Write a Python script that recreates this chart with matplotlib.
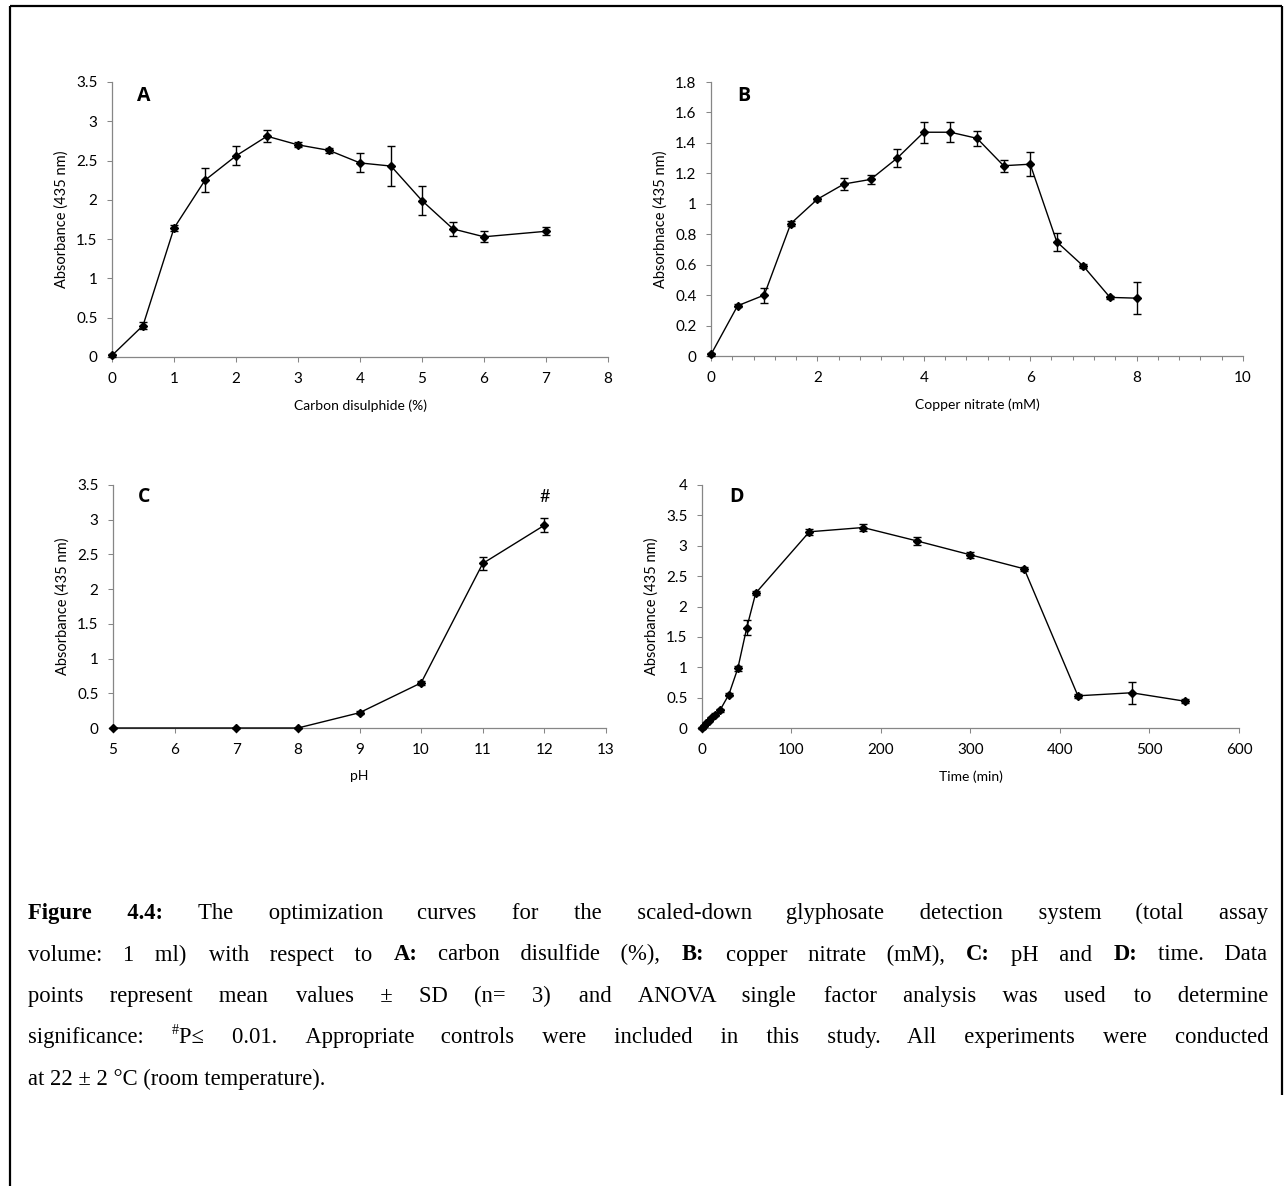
import re

import matplotlib

matplotlib.use("Agg")
import matplotlib.pyplot as plt
from matplotlib.lines import Line2D
from matplotlib.ticker import FuncFormatter, MultipleLocator

# ---- data: mean absorbance (435 nm) and SD, n = 3 ----
cs2_pct = [0, 0.5, 1, 1.5, 2, 2.5, 3, 3.5, 4, 4.5, 5, 5.5, 6, 7]
cs2_abs = [0.02, 0.40, 1.64, 2.25, 2.56, 2.81, 2.70, 2.63, 2.47, 2.43, 1.99, 1.63, 1.53, 1.60]
cs2_sd = [0.02, 0.04, 0.04, 0.15, 0.12, 0.08, 0.03, 0.03, 0.12, 0.26, 0.18, 0.09, 0.07, 0.05]

cu_mm = [0, 0.5, 1, 1.5, 2, 2.5, 3, 3.5, 4, 4.5, 5, 5.5, 6, 6.5, 7, 7.5, 8]
cu_abs = [0.01, 0.33, 0.40, 0.87, 1.03, 1.13, 1.16, 1.30, 1.47, 1.47, 1.43, 1.25, 1.26,
          0.75, 0.59, 0.385, 0.38]
cu_sd = [0.01, 0.01, 0.05, 0.015, 0.01, 0.04, 0.03, 0.06, 0.07, 0.065, 0.05, 0.04, 0.08,
         0.06, 0.015, 0.01, 0.105]

ph = [5, 7, 8, 9, 10, 11, 12]
ph_abs = [0.0, 0.0, 0.0, 0.22, 0.65, 2.37, 2.92]
ph_sd = [0.0, 0.0, 0.0, 0.02, 0.03, 0.09, 0.10]
ph_sig_x = 12
ph_sig_y = 3.33

time_min = [0, 2.5, 5, 7.5, 10, 15, 20, 30, 40, 50, 60, 120, 180, 240, 300, 360, 420, 480, 540]
time_abs = [0.0, 0.04, 0.08, 0.12, 0.16, 0.22, 0.29, 0.55, 0.98, 1.65, 2.22, 3.23, 3.30,
            3.08, 2.85, 2.62, 0.53, 0.58, 0.44]
time_sd = [0.01, 0.01, 0.01, 0.01, 0.02, 0.02, 0.03, 0.03, 0.04, 0.12, 0.03, 0.05, 0.05,
           0.07, 0.05, 0.03, 0.03, 0.18, 0.03]

CAPTION = [
    "**Figure **4.4: The optimization curves for the scaled-down glyphosate detection system (total assay",
    "volume: 1 ml) with respect to **A: carbon disulfide (%), **B: copper nitrate (mM), **C: pH and **D: time. Data",
    "points represent mean values ± SD (n= 3) and ANOVA single factor analysis was used to determine",
    "significance: {#}P≤ 0.01. Appropriate controls were included in this study. All experiments were conducted",
    "at 22 ± 2 °C (room temperature).",
]

W, H = 1285, 1186
AX_GREY = "#868686"
SERIF = ["Liberation Serif", "DejaVu Serif"]

plt.rcParams["font.family"] = ["Lato", "DejaVu Sans"]

fig = plt.figure(figsize=(W / 100, H / 100), dpi=100)
excel_fmt = FuncFormatter(lambda v, _: f"{v:g}")


def px_axes(left, right, top, bottom):
    return fig.add_axes([left / W, 1 - bottom / H, (right - left) / W, (bottom - top) / H])


def style(ax, xlim, ylim, xstep, ystep, xlabel, ylabel, letter, xminor=None):
    ax.set_xlim(*xlim)
    ax.set_ylim(*ylim)
    ax.xaxis.set_major_locator(MultipleLocator(xstep))
    ax.yaxis.set_major_locator(MultipleLocator(ystep))
    ax.xaxis.set_major_formatter(excel_fmt)
    ax.yaxis.set_major_formatter(excel_fmt)
    if xminor:
        ax.xaxis.set_minor_locator(MultipleLocator(xminor))
        ax.tick_params(axis="x", which="minor", length=3, width=0.75, color=AX_GREY)
    for s in ("top", "right"):
        ax.spines[s].set_visible(False)
    for s in ("left", "bottom"):
        ax.spines[s].set_color(AX_GREY)
        ax.spines[s].set_linewidth(0.9)
    ax.tick_params(which="major", length=3.5, width=0.75, color=AX_GREY,
                   labelsize=11, pad=7)
    ax.set_xlabel(xlabel, fontsize=10, labelpad=10)
    ax.set_ylabel(ylabel, fontsize=10.5, labelpad=5)
    ax.text(0.05, 0.95, letter, transform=ax.transAxes, fontsize=14,
            fontweight="bold", family=["Open Sans", "DejaVu Sans"],
            ha="left", va="center")


def curve(ax, x, y, err):
    ax.errorbar(x, y, yerr=err, color="black", lw=1.0, marker="D", ms=4.2,
                mec="black", mfc="black", ecolor="black", elinewidth=1.0,
                capsize=2.6, capthick=1.0, clip_on=False, zorder=3)


axA = px_axes(112, 608, 82, 357)
curve(axA, cs2_pct, cs2_abs, cs2_sd)
style(axA, (0, 8), (0, 3.5), 1, 0.5, "Carbon disulphide (%)", "Absorbance (435 nm)", "A")

axB = px_axes(711, 1243, 82, 356)
curve(axB, cu_mm, cu_abs, cu_sd)
style(axB, (0, 10), (0, 1.8), 2, 0.2, "Copper nitrate (mM)", "Absorbnace (435 nm)", "B",
      xminor=0.4)

axC = px_axes(113, 606, 485, 728)
curve(axC, ph, ph_abs, ph_sd)
style(axC, (5, 13), (0, 3.5), 1, 0.5, "pH", "Absorbance (435 nm)", "C")
axC.text(ph_sig_x, ph_sig_y, "#", fontsize=13, ha="center", va="center")

axD = px_axes(702, 1239, 485, 728)
curve(axD, time_min, time_abs, time_sd)
style(axD, (0, 600), (0, 4), 100, 0.5, "Time (min)", "Absorbance (435 nm)", "D")

# ---- outer frame ----
frame_kw = dict(color="black", lw=1.6, transform=fig.transFigure, solid_capstyle="butt")
fig.add_artist(Line2D([10 / W, 1282 / W], [1 - 6 / H, 1 - 6 / H], **frame_kw))
fig.add_artist(Line2D([10 / W, 10 / W], [1 - 6 / H, 0], **frame_kw))
fig.add_artist(Line2D([1282 / W, 1282 / W], [1 - 6 / H, 1 - 1095 / H], **frame_kw))

# ---- justified caption ----
CAP_LEFT, CAP_RIGHT = 28, 1268
CAP_BASE, CAP_LEAD = 919, 41.5
CAP_SIZE = 16.3
HAIR = "\u200a"

renderer = fig.canvas.get_renderer()


def parse_line(line):
    """Caption line -> list of (text, bold, superscript, space_before)."""
    items = []
    for wi, word in enumerate(line.split(" ")):
        bold = word.startswith("**")
        if bold:
            word = word[2:]
        for pi, (sup, plain) in enumerate(re.findall(r"\{([^}]*)\}|([^{]+)", word)):
            first = wi > 0 and pi == 0
            if sup:
                items.append((sup, False, True, first))
            else:
                items.append((plain, bold, False, first))
    return items


def cap_text(x, y, txt, bold, sup):
    size = CAP_SIZE * (0.62 if sup else 1.0)
    yy = y - (CAP_SIZE * 0.42 / 72 * 100 if sup else 0)
    return fig.text(x / W, 1 - yy / H, txt, fontsize=size, family=SERIF,
                    fontweight="bold" if bold else "normal", ha="left", va="baseline")


def text_width(txt, bold=False, sup=False):
    t = cap_text(0, 0, txt, bold, sup)
    w = t.get_window_extent(renderer).width
    t.remove()
    return w


space_w = text_width("a a") - text_width("aa")
hair_w = text_width("a" + HAIR + "a") - text_width("aa")
if hair_w < 0.3:
    HAIR = "\u2009"
    hair_w = text_width("a" + HAIR + "a") - text_width("aa")


def filler(gap):
    gap = max(gap, 0.0)
    n = int(gap // space_w)
    k = int(round((gap - n * space_w) / hair_w))
    return " " * n + HAIR * k


for i, line in enumerate(CAPTION):
    items = parse_line(line)
    widths = [text_width(t, b, s) for t, b, s, _ in items]
    n_gaps = sum(1 for it in items if it[3])
    y = CAP_BASE + i * CAP_LEAD
    if i == len(CAPTION) - 1 or n_gaps == 0:
        gap = space_w
    else:
        gap = (CAP_RIGHT - CAP_LEFT - sum(widths)) / n_gaps

    # ideal left edge of every piece
    xs, x = [], CAP_LEFT
    for (txt, bold, sup, sp), w in zip(items, widths):
        if sp:
            x += gap
        xs.append(x)
        x += w

    # same-style neighbours are drawn as one string so they share a baseline;
    # each filler is sized against the string built so far, so rounding
    # does not pile up towards the right margin
    runs = []
    for (txt, bold, sup, sp), x0, w in zip(items, xs, widths):
        if runs and runs[-1]["key"] == (bold, sup):
            run = runs[-1]
            so_far = text_width(run["text"], bold, sup)
            need = (x0 - run["x"]) - so_far if sp else 0.0
            run["text"] += (filler(need) if sp else "") + txt
        else:
            runs.append({"key": (bold, sup), "x": x0, "text": txt})
    for run in runs:
        bold, sup = run["key"]
        cap_text(run["x"], y, run["text"], bold, sup)

fig.savefig("out.png", dpi=100)
